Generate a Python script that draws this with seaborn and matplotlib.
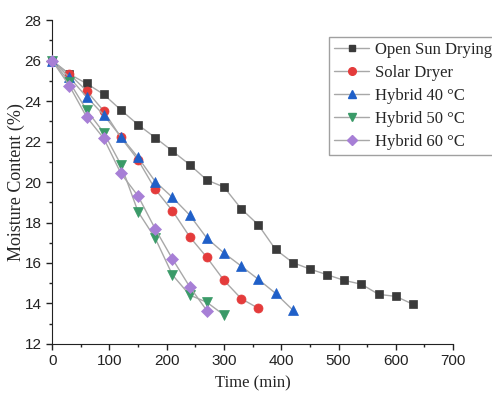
import numpy as np
import pandas as pd
import matplotlib
matplotlib.use("Agg")
import matplotlib.pyplot as plt
import seaborn as sns
from matplotlib.lines import Line2D
from matplotlib.ticker import MultipleLocator

# Moisture content (%), one reading every 30 min
open_sun = [26.0, 25.33, 24.87, 24.33, 23.56, 22.83, 22.19, 21.53, 20.86, 20.1, 19.75,
            18.68, 17.88, 16.67, 16.02, 15.7, 15.42, 15.14, 14.95, 14.45, 14.35, 13.96]
solar = [26.0, 25.33, 24.51, 23.51, 22.2, 21.09, 19.64, 18.58, 17.3, 16.28, 15.14, 14.24, 13.76]
hybrid40 = [26.0, 25.17, 24.21, 23.31, 22.24, 21.22, 20.02, 19.24, 18.37, 17.23, 16.49,
            15.85, 15.19, 14.5, 13.68]
hybrid50 = [26.0, 24.95, 23.56, 22.44, 20.86, 18.53, 17.22, 15.41, 14.42, 14.06, 13.43]
hybrid60 = [26.0, 24.76, 23.22, 22.16, 20.43, 19.31, 17.68, 16.2, 14.83, 13.65]

labels = ["Open Sun Drying", "Solar Dryer", "Hybrid 40 \u00b0C", "Hybrid 50 \u00b0C", "Hybrid 60 \u00b0C"]
series = [open_sun, solar, hybrid40, hybrid50, hybrid60]
colors = ["#3a3a3a", "#e43b3b", "#1f5fc8", "#3a9a68", "#a77fd6"]
markers = ["s", "o", "^", "v", "D"]
sizes = [6, 6.5, 7, 7, 6]

sns.set_style("ticks")
plt.rcParams["font.family"] = ["Liberation Sans", "DejaVu Sans"]

fig = plt.figure(figsize=(4.92, 3.94), dpi=100)
ax = fig.add_axes([0.106, 0.127, 0.815, 0.822])

handles = []
for lab, vals, c, m, ms in zip(labels, series, colors, markers, sizes):
    df = pd.DataFrame({"t": np.arange(len(vals)) * 30, "mc": vals})
    sns.lineplot(data=df, x="t", y="mc", ax=ax, color="#a8a8a8", lw=1.0,
                 marker=m, markersize=ms, markerfacecolor=c, markeredgecolor=c,
                 markeredgewidth=0.5, clip_on=False, zorder=3)
    handles.append(Line2D([], [], color="#a8a8a8", lw=1.0, marker=m, markersize=ms - 1,
                          markerfacecolor=c, markeredgecolor=c))

ax.set_xlim(0, 700)
ax.set_ylim(12, 28)
ax.xaxis.set_major_locator(MultipleLocator(100))
ax.xaxis.set_minor_locator(MultipleLocator(50))
ax.yaxis.set_major_locator(MultipleLocator(2))
ax.yaxis.set_minor_locator(MultipleLocator(1))
ax.tick_params(which="major", direction="out", length=4, width=1, labelsize=11, colors="#222222")
ax.tick_params(which="minor", direction="out", length=2.5, width=1, colors="#222222")
sns.despine(ax=ax)
for s in ["left", "bottom"]:
    ax.spines[s].set_color("#222222")

ax.set_xlabel("Time (min)", family="Liberation Serif", fontsize=12, labelpad=5)
ax.set_ylabel("Moisture Content (%)", family="Liberation Serif", fontsize=13, labelpad=0)

leg = ax.legend(handles, labels, loc="upper left", bbox_to_anchor=(0.691, 0.9475),
                prop={"family": "Liberation Serif", "size": 12}, frameon=True, fancybox=False,
                handlelength=2.1, handletextpad=0.35, borderpad=0.3, labelspacing=0.42,
                borderaxespad=0)
leg.get_frame().set_edgecolor("#888888")
leg.get_frame().set_linewidth(1.0)

fig.savefig("out.png", dpi=100)
